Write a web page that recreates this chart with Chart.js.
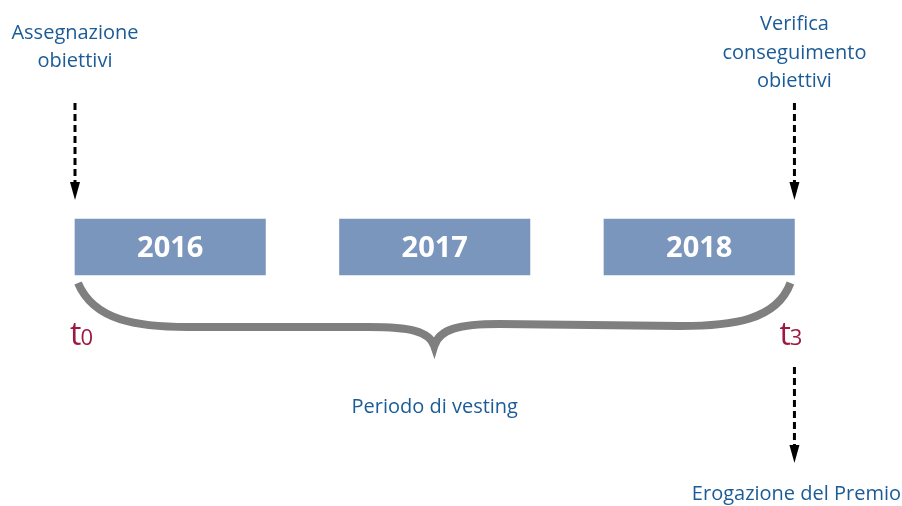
<!DOCTYPE html>
<html lang="it">
<head>
<meta charset="UTF-8">
<title>Periodo di vesting</title>
<script src="https://cdn.jsdelivr.net/npm/chart.js"></script>
<style>
    body { margin: 0; background: #fff; }
    #wrap { width: 902px; height: 506px; }
</style>
</head>
<body>
<div id="wrap"><canvas id="timeline" width="902" height="506"></canvas></div>
<script>
    // years of the vesting period, start in year units, box length
    const years = ['2016', '2017', '2018'];
    const yearStart = [0, 1, 2];
    const boxSpan = 0.72;

    // milestones on the time axis
    const milestoneNames = ['t', 't'];
    const milestoneSubs = ['0', '3'];
    const milestoneX = [0, 2.72];

    // notes with arrows (text lines, x position)
    const topLeftNote = ['Assegnazione', 'obiettivi'];
    const topRightNote = ['Verifica', 'conseguimento', 'obiettivi'];
    const bottomNote = ['Erogazione del Premio'];
    const braceLabel = 'Periodo di vesting';

    // layout rows (vertical units, top = 0)
    const boxRow = 247;

    const BLUE = '#1b5b97';
    const RED = '#9c1a40';
    const GREY = '#7f7f7f';

    function dashedArrow(ctx, x, y0, y1) {
        ctx.save();
        ctx.strokeStyle = '#000';
        ctx.lineWidth = 3;
        ctx.setLineDash([7, 4]);
        ctx.beginPath();
        ctx.moveTo(x, y0);
        ctx.lineTo(x, y1 - 14);
        ctx.stroke();
        ctx.setLineDash([]);
        ctx.fillStyle = '#000';
        ctx.beginPath();
        ctx.moveTo(x - 5, y1 - 18);
        ctx.lineTo(x + 5, y1 - 18);
        ctx.lineTo(x, y1);
        ctx.closePath();
        ctx.fill();
        ctx.restore();
    }

    function textLines(ctx, lines, x, y, lh) {
        lines.forEach((l, i) => ctx.fillText(l, x, y + i * lh));
    }

    const decorations = {
        id: 'decorations',
        afterDatasetsDraw(chart) {
            const ctx = chart.ctx;
            const xs = chart.scales.x;
            const ys = chart.scales.y;
            const meta = chart.getDatasetMeta(0);

            ctx.save();
            // year labels inside boxes
            ctx.fillStyle = '#fff';
            ctx.font = 'bold 29px "Open Sans"';
            ctx.textAlign = 'center';
            ctx.textBaseline = 'middle';
            meta.data.forEach((bar, i) => {
                const cx = (bar.x + bar.base) / 2;
                ctx.fillText(years[i], cx, bar.y + 2);
            });

            // curly brace under the boxes
            const left = xs.getPixelForValue(milestoneX[0]) + 3;
            const right = xs.getPixelForValue(milestoneX[1]) - 4;
            const mid = (left + right) / 2;
            const top = ys.getPixelForValue(283);
            const flat = ys.getPixelForValue(327);
            const tip = ys.getPixelForValue(346);
            ctx.strokeStyle = GREY;
            ctx.lineWidth = 8;
            ctx.lineJoin = 'miter';
            ctx.beginPath();
            ctx.moveTo(left, top);
            ctx.bezierCurveTo(left + 16, flat - 6, left + 60, flat, left + 110, flat);
            ctx.lineTo(mid - 65, flat);
            ctx.bezierCurveTo(mid - 25, flat, mid - 5, flat + 4, mid, tip);
            ctx.bezierCurveTo(mid + 5, flat + 2, mid + 25, flat - 3, mid + 65, flat - 3);
            ctx.lineTo(right - 110, flat - 1);
            ctx.bezierCurveTo(right - 60, flat - 1, right - 14, flat - 6, right, top);
            ctx.stroke();

            // milestone labels t0 / t3
            ctx.fillStyle = RED;
            ctx.textAlign = 'left';
            ctx.textBaseline = 'alphabetic';
            milestoneX.forEach((v, i) => {
                const px = xs.getPixelForValue(v) - 5 + (i === 1 ? -10 : 0);
                const base = ys.getPixelForValue(345);
                ctx.font = '32px "Open Sans"';
                ctx.fillText(milestoneNames[i], px, base);
                const w = ctx.measureText(milestoneNames[i]).width;
                ctx.font = '22px "Open Sans"';
                ctx.fillText(milestoneSubs[i], px + w - 1, base);
            });

            // notes
            ctx.fillStyle = BLUE;
            ctx.textAlign = 'center';
            ctx.font = '20px "Open Sans"';
            textLines(ctx, topLeftNote, xs.getPixelForValue(milestoneX[0]), ys.getPixelForValue(39), 28);
            textLines(ctx, topRightNote, xs.getPixelForValue(milestoneX[1]), ys.getPixelForValue(30), 28.5);
            ctx.fillText(braceLabel, xs.getPixelForValue((milestoneX[0] + milestoneX[1]) / 2), ys.getPixelForValue(413));
            textLines(ctx, bottomNote, xs.getPixelForValue(milestoneX[1]) + 2, ys.getPixelForValue(500), 28);

            // arrows
            dashedArrow(ctx, xs.getPixelForValue(milestoneX[0]), ys.getPixelForValue(103), ys.getPixelForValue(200));
            dashedArrow(ctx, xs.getPixelForValue(milestoneX[1]), ys.getPixelForValue(103), ys.getPixelForValue(200));
            dashedArrow(ctx, xs.getPixelForValue(milestoneX[1]), ys.getPixelForValue(367), ys.getPixelForValue(463));
            ctx.restore();
        }
    };

    new Chart(document.getElementById('timeline'), {
        type: 'bar',
        data: {
            datasets: [{
                data: years.map((y, i) => ({ x: [yearStart[i], yearStart[i] + boxSpan], y: boxRow })),
                backgroundColor: '#7a96bd',
                borderWidth: 0,
                barThickness: 56
            }]
        },
        options: {
            indexAxis: 'y',
            responsive: false,
            animation: false,
            events: [],
            layout: { padding: 0 },
            plugins: { legend: { display: false }, tooltip: { enabled: false } },
            scales: {
                x: { type: 'linear', display: false, offset: false, min: -75 / 264.5, max: 827 / 264.5 },
                y: { type: 'linear', display: false, offset: false, min: 0, max: 506, reverse: true }
            }
        },
        plugins: [decorations]
    });
</script>
</body>
</html>
